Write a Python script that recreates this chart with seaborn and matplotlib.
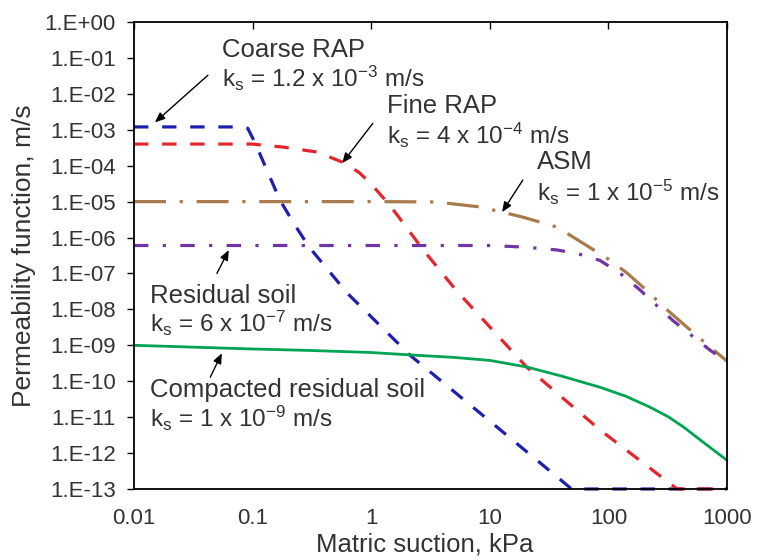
import numpy as np
import pandas as pd
import matplotlib
matplotlib.use("Agg")
import matplotlib.pyplot as plt
import seaborn as sns

# ---- data (suction kPa, permeability m/s) ----
coarse_x = [0.01, 0.074, 0.091, 0.105, 0.126, 0.17, 0.224, 0.30, 0.63, 2.14, 12.3, 49, 1000]
coarse_y = [1.2e-3, 1.2e-3, 1.1e-3, 4.3e-4, 1.07e-4, 1.1e-5, 2.4e-6, 5.4e-7, 2.8e-8,
            5.2e-10, 4.4e-12, 1e-13, 1e-13]

fine_x = [0.01, 0.1, 0.18, 0.35, 0.57, 0.79, 0.98, 1.35, 1.66, 2.75, 5.2, 20.4, 85, 380, 1000]
fine_y = [4e-4, 4e-4, 3.3e-4, 2.4e-4, 1.26e-4, 6.5e-5, 3.3e-5, 1.0e-5, 4.2e-6, 4.5e-7,
          3.4e-8, 2.5e-10, 4.4e-12, 1e-13, 1e-13]

asm_x = [0.01, 1.0, 3.5, 8.3, 12.7, 19, 37, 69, 100, 145, 214, 309, 562, 1000]
asm_y = [1e-5, 1e-5, 9.8e-6, 7.1e-6, 5.1e-6, 3.7e-6, 1.95e-6, 5.4e-7, 2.5e-7, 1.0e-7,
         3.2e-8, 1.0e-8, 1.8e-9, 3.6e-10]

res_x = [0.01, 10, 20, 37, 56, 85, 126, 186, 347, 724, 1000]
res_y = [6e-7, 6e-7, 5.4e-7, 4.5e-7, 3.5e-7, 2.3e-7, 1.0e-7, 3.4e-8, 5.0e-9, 7.2e-10, 3.5e-10]

comp_x = [0.01, 0.1, 0.3, 1.0, 2.14, 5.0, 10, 20.4, 40, 85, 141, 224, 316, 427, 631, 1000]
comp_y = [1e-9, 7.9e-10, 7.2e-10, 6.3e-10, 5.4e-10, 4.6e-10, 3.8e-10, 2.5e-10, 1.4e-10,
          6.8e-11, 3.8e-11, 1.9e-11, 1.05e-11, 5.4e-12, 2.0e-12, 6.3e-13]

series_names = ["Coarse RAP", "Fine RAP", "ASM", "Residual soil", "Compacted residual soil"]
y_ticks = [10.0 ** -k for k in range(0, 14)]
y_tick_labels = ["1.E+00"] + ["1.E-%02d" % k for k in range(1, 14)]
x_ticks = [0.01, 0.1, 1, 10, 100, 1000]
x_tick_labels = ["0.01", "0.1", "1", "10", "100", "1000"]

frames = []
for name, xs, ys in zip(series_names,
                        [coarse_x, fine_x, asm_x, res_x, comp_x],
                        [coarse_y, fine_y, asm_y, res_y, comp_y]):
    frames.append(pd.DataFrame({"suction": xs, "k": ys, "series": name}))
df = pd.concat(frames, ignore_index=True)

palette = {"Coarse RAP": "#1f1fae", "Fine RAP": "#e4262c", "ASM": "#a87a4c",
           "Residual soil": "#7034a4", "Compacted residual soil": "#00a452"}
dashes = {"Coarse RAP": (4.5, 4.3), "Fine RAP": (4.5, 4.3),
          "ASM": (10, 4.3, 1, 4.3), "Residual soil": (4.5, 4.5, 1, 4.5),
          "Compacted residual soil": ""}

sns.set_style("white")
plt.rcParams['font.family'] = ['Liberation Sans', 'DejaVu Sans']
plt.rcParams['mathtext.fontset'] = 'custom'
plt.rcParams['mathtext.rm'] = 'Liberation Sans'
plt.rcParams['mathtext.it'] = 'Liberation Sans'

fig = plt.figure(figsize=(7.57, 5.6), dpi=100)
ax = fig.add_axes([134 / 757, 1 - 489 / 560, 593 / 757, 467 / 560])

sns.lineplot(data=df, x="suction", y="k", hue="series", style="series",
             palette=palette, dashes=dashes, hue_order=series_names,
             style_order=series_names, sort=False, estimator=None,
             linewidth=2.3, legend=False, ax=ax)
for ln in ax.lines:
    ln.set_clip_on(False)
    ln.set_solid_joinstyle("round")
    ln.set_dash_joinstyle("round")
ax.lines[-1].set_linewidth(2.0)

ax.set_xscale("log")
ax.set_yscale("log")
ax.set_xlim(0.01, 1000)
ax.set_ylim(1e-13, 1)
ax.set_yticks(y_ticks)
ax.set_yticklabels(y_tick_labels)
ax.set_xticks(x_ticks)
ax.set_xticklabels(x_tick_labels)
ax.minorticks_off()

for s in ax.spines.values():
    s.set_color("black")
    s.set_linewidth(1.3)

ax.tick_params(axis="y", which="major", left=True, direction="out", length=5,
               width=1.0, color="black", labelsize=16, pad=8, labelcolor="#333333")
ax.tick_params(axis="x", which="major", bottom=False, top=True, direction="in",
               length=5, width=1.0, color="black", labelsize=16, pad=14,
               labelcolor="#333333")

ax.set_xlabel("Matric suction, kPa", fontsize=18.5, color="#333333")
ax.set_ylabel("Permeability function, m/s", fontsize=19, color="#333333", labelpad=6)
ax.xaxis.set_label_coords(0.49, -0.094)

tcol = "#333333"

def frac(px, py):
    return ((px - 134) / 593, (489 - py) / 467)

texts = [
    (222, 50, "Coarse RAP", 18.5),
    (222, 78, r"k$_\mathregular{s}$ = 1.2 x 10$^\mathregular{-3}$ m/s", 17.5),
    (387, 106, "Fine RAP", 18.5),
    (387, 135, r"k$_\mathregular{s}$ = 4 x 10$^\mathregular{-4}$ m/s", 17.5),
    (537, 162, "ASM", 18.5),
    (537, 192, r"k$_\mathregular{s}$ = 1 x 10$^\mathregular{-5}$ m/s", 17.5),
    (150, 296, "Residual soil", 18.5),
    (150, 323, r"k$_\mathregular{s}$ = 6 x 10$^\mathregular{-7}$ m/s", 17.5),
    (150, 390, "Compacted residual soil", 18.5),
    (150, 418, r"k$_\mathregular{s}$ = 1 x 10$^\mathregular{-9}$ m/s", 17.5),
]
for px, py, t, fs in texts:
    fx, fy = frac(px, py)
    ax.text(fx, fy, t, transform=ax.transAxes, fontsize=fs, color=tcol,
            ha="left", va="center")

# arrows: (head in data coords, tail in data coords)
arrows = [
    ((0.0150, 1.6e-3), (0.042, 3.3e-2)),
    ((0.57, 1.18e-4), (1.03, 1.5e-3)),
    ((12.7, 5.1e-6), (19, 4e-5)),
    ((0.063, 4.5e-7), (0.050, 1.0e-7)),
    ((0.055, 6e-10), (0.044, 1.3e-10)),
]
for head, tail in arrows:
    ax.annotate("", xy=head, xytext=tail, xycoords="data", textcoords="data",
                arrowprops=dict(arrowstyle="-|>,head_length=0.6,head_width=0.25",
                                color="black", lw=1.0, shrinkA=0, shrinkB=0))

fig.savefig("out.png", dpi=100)
